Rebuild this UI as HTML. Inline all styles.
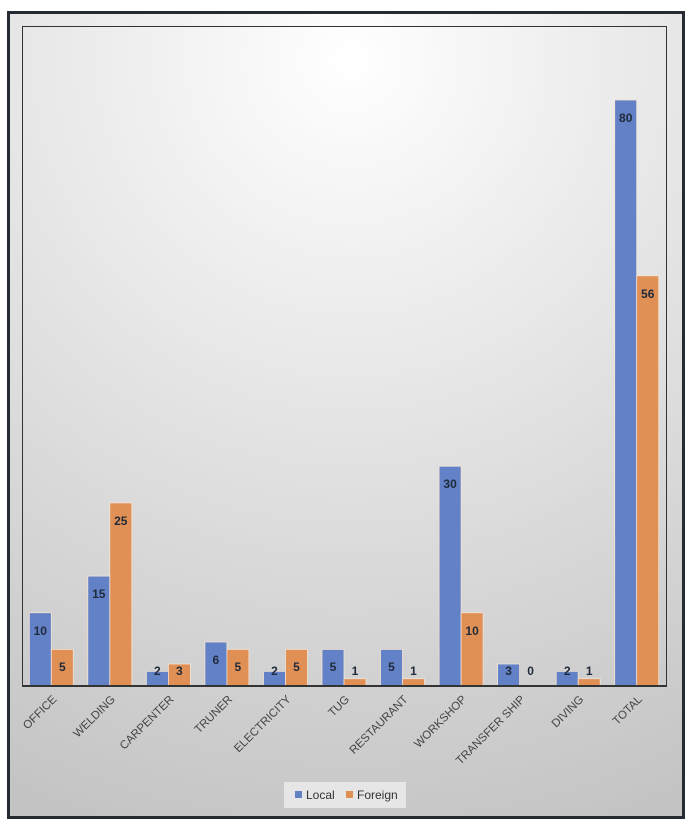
<!DOCTYPE html>
<html><head><style>
html,body{margin:0;padding:0;background:#fff;}
svg{display:block;font-family:"Liberation Sans",sans-serif;}
</style></head><body>
<svg width="692" height="828" viewBox="0 0 692 828">
<defs>
<radialGradient id="bg" cx="350" cy="60" r="800" gradientUnits="userSpaceOnUse">
<stop offset="0" stop-color="#ffffff"/>
<stop offset="1" stop-color="#c4c4c4"/>
</radialGradient>
</defs>
<rect x="8.5" y="12.5" width="675" height="805" fill="url(#bg)" stroke="#262a33" stroke-width="3"/>
<rect x="22.5" y="26.5" width="644" height="660" fill="none" stroke="#333" stroke-width="1"/>
<g stroke="#f3e3d3" stroke-width="0.8">
<rect x="29.3" y="612.75" width="22" height="73.25" fill="#6381c6"/>
<rect x="51.3" y="649.4" width="22" height="36.6" fill="#e08f55"/>
<rect x="87.8" y="576.1" width="22" height="109.9" fill="#6381c6"/>
<rect x="109.8" y="502.9" width="22" height="183.1" fill="#e08f55"/>
<rect x="146.4" y="671.35" width="22" height="14.65" fill="#6381c6"/>
<rect x="168.4" y="664" width="22" height="22" fill="#e08f55"/>
<rect x="204.9" y="642" width="22" height="44" fill="#6381c6"/>
<rect x="226.9" y="649.4" width="22" height="36.6" fill="#e08f55"/>
<rect x="263.5" y="671.35" width="22" height="14.65" fill="#6381c6"/>
<rect x="285.5" y="649.4" width="22" height="36.6" fill="#e08f55"/>
<rect x="322" y="649.4" width="22" height="36.6" fill="#6381c6"/>
<rect x="344" y="678.7" width="22" height="7.3" fill="#e08f55"/>
<rect x="380.5" y="649.4" width="22" height="36.6" fill="#6381c6"/>
<rect x="402.5" y="678.7" width="22" height="7.3" fill="#e08f55"/>
<rect x="439.1" y="466.25" width="22" height="219.75" fill="#6381c6"/>
<rect x="461.1" y="612.75" width="22" height="73.25" fill="#e08f55"/>
<rect x="497.6" y="664" width="22" height="22" fill="#6381c6"/>
<rect x="556.2" y="671.35" width="22" height="14.65" fill="#6381c6"/>
<rect x="578.2" y="678.7" width="22" height="7.3" fill="#e08f55"/>
<rect x="614.7" y="100" width="22" height="586" fill="#6381c6"/>
<rect x="636.7" y="275.8" width="22" height="410.2" fill="#e08f55"/>
</g>
<line x1="22" y1="686" x2="666" y2="686" stroke="#333" stroke-width="2"/>
<g font-size="12" font-weight="bold" fill="#1f2a3a" text-anchor="middle">
<text x="40.3" y="635">10</text><text x="62.3" y="671">5</text>
<text x="98.8" y="598">15</text><text x="120.8" y="525">25</text>
<text x="157.4" y="675">2</text><text x="179.4" y="675">3</text>
<text x="215.9" y="664">6</text><text x="237.9" y="671">5</text>
<text x="274.5" y="675">2</text><text x="296.5" y="671">5</text>
<text x="333" y="671">5</text><text x="355" y="675">1</text>
<text x="391.5" y="671">5</text><text x="413.5" y="675">1</text>
<text x="450.1" y="488">30</text><text x="472.1" y="635">10</text>
<text x="508.6" y="675">3</text><text x="530.6" y="675">0</text>
<text x="567.2" y="675">2</text><text x="589.2" y="675">1</text>
<text x="625.7" y="122">80</text><text x="647.7" y="298">56</text>
</g>
<g font-size="11.5" fill="#444" text-anchor="end">
<text transform="translate(57.3,700) rotate(-45)">OFFICE</text>
<text transform="translate(115.8,700) rotate(-45)">WELDING</text>
<text transform="translate(174.4,700) rotate(-45)">CARPENTER</text>
<text transform="translate(232.9,700) rotate(-45)">TRUNER</text>
<text transform="translate(291.5,700) rotate(-45)">ELECTRICITY</text>
<text transform="translate(350,700) rotate(-45)">TUG</text>
<text transform="translate(408.5,700) rotate(-45)">RESTAURANT</text>
<text transform="translate(467.1,700) rotate(-45)">WORKSHOP</text>
<text transform="translate(525.6,700) rotate(-45)">TRANSFER SHIP</text>
<text transform="translate(584.2,700) rotate(-45)">DIVING</text>
<text transform="translate(642.7,700) rotate(-45)">TOTAL</text>
</g>
<rect x="284" y="782" width="122" height="26" fill="#e6e6e6"/>
<rect x="295" y="791" width="7" height="7" fill="#6381c6"/>
<text x="306" y="799" font-size="12" fill="#333">Local</text>
<rect x="346" y="791" width="7" height="7" fill="#e08f55"/>
<text x="357" y="799" font-size="12" fill="#333">Foreign</text>
</svg>
</body></html>
